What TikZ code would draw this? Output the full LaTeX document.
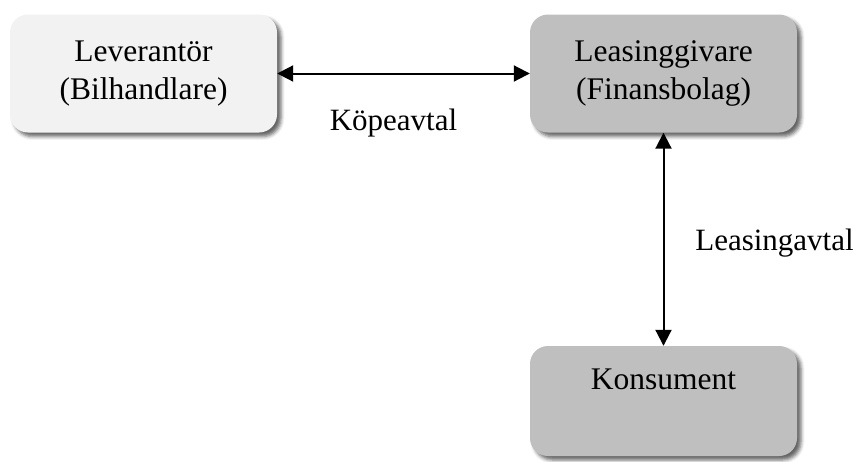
\documentclass[tikz,border=0pt]{standalone}
\usepackage{fontspec}
\setmainfont{Liberation Serif}
\usetikzlibrary{arrows.meta,shadows.blur}
\definecolor{lightbox}{HTML}{F2F2F2}
\definecolor{darkbox}{HTML}{BFBFBF}
\begin{document}
\begin{tikzpicture}[x=1pt,y=-1pt,
  box/.style={rounded corners=18pt, draw=none, minimum width=267pt, inner sep=0pt,
    align=center, font=\fontsize{31.5}{38}\selectfont,
    blur shadow={shadow xshift=4pt, shadow yshift=-4pt, shadow blur radius=3.5pt, shadow opacity=60}},
  lbl/.style={font=\fontsize{31}{38}\selectfont, inner sep=0pt, anchor=base},
  conn/.style={line width=2pt, {Triangle[length=16pt,width=16pt]}-{Triangle[length=16pt,width=16pt]}}]
\useasboundingbox (0,0) rectangle (854,461);
\node[box, fill=lightbox, minimum height=118pt] (lev) at (143.5,73.5) {Leverantör\\(Bilhandlare)};
\node[box, fill=darkbox, minimum height=118pt] (lea) at (663.5,73.5) {Leasinggivare\\(Finansbolag)};
\node[box, fill=darkbox, text height=43pt, text depth=67pt, anchor=base] (kon) at (663.5,389) {Konsument};
\draw[conn] (lev.east) -- (lea.west);
\draw[conn] (lea.south) -- (kon.north);
\node[lbl] (kop) at (393.5,130) {Köpeavtal};
\node[lbl] (lav) at (774.5,250) {Leasingavtal};
\end{tikzpicture}
\end{document}
